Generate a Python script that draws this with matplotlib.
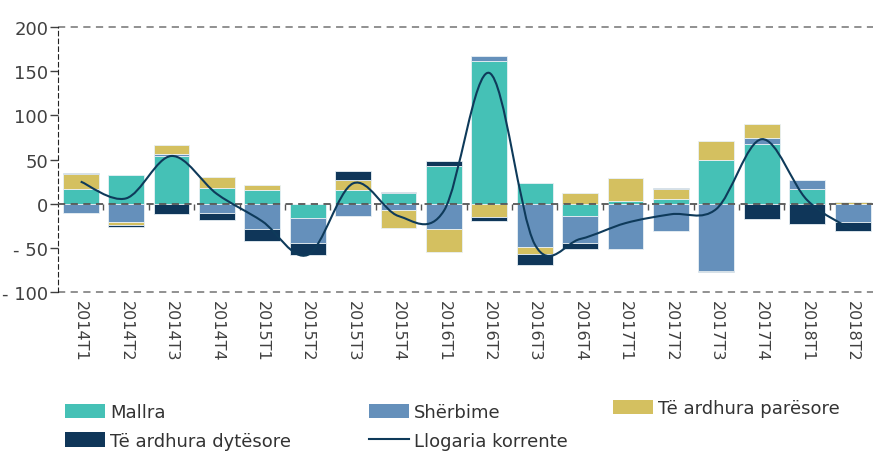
import numpy as np
import matplotlib
matplotlib.use("Agg")
import matplotlib.pyplot as plt
from matplotlib.path import Path
from matplotlib.patches import PathPatch, Patch
from matplotlib.lines import Line2D

quarters = ['2014T1', '2014T2', '2014T3', '2014T4', '2015T1', '2015T2', '2015T3', '2015T4',
            '2016T1', '2016T2', '2016T3', '2016T4', '2017T1', '2017T2', '2017T3', '2017T4',
            '2018T1', '2018T2']
mallra = [17, 32, 54, 18, 16, -16, 16, 12, 43, 162, 23, -13.5, 3.5, 5.5, 49, 67.5, 16.5, 0]
sherbime = [-10, -21, 2, -11, -29, -29, -14, -7, -29, 5, -49, -31, -51, -30.5, -76, 6.5, 10, -21]
paresore = [17, -3, 10, 12, 5.5, 0, 10.5, -21, -26, -15, -8, 12, 25.5, 11.5, 22, 16, 0, 1.5]
dytesore = [1, -2, -12, -8, -13, -13, 10.5, 1.5, 5, -5, -12, -7, 0, 1, -1, -17, -22.5, -9.5]
korrente = [25, 6, 54, 11, -20, -58, 23, -14, -8, 148, -46, -40, -22, -12, -6, 73, 4, -30]

yticks = [-100, -50, 0, 50, 100, 150, 200]
ylabels = ['- 100', '- 50', '0', '50', '100', '150', '200']

series = [('Mallra', mallra, '#45c1b6'),
          ('Shërbime', sherbime, '#6590bb'),
          ('Të ardhura parësore', paresore, '#d4c060'),
          ('Të ardhura dytësore', dytesore, '#0f3659')]
line_col = '#0e3a5a'
txt = '#404040'

plt.rcParams['font.family'] = ['DejaVu Sans']

fig = plt.figure(figsize=(8.73, 4.56), dpi=100)
ax = fig.add_axes([58 / 873, 1 - 293 / 456, 1 - 58 / 873, (293 - 28) / 456])

x = np.arange(len(quarters))
pos = np.zeros(len(x))
neg = np.zeros(len(x))
for name, vals, col in series:
    v = np.array(vals, dtype=float)
    bottom = np.where(v >= 0, pos, neg)
    ax.bar(x, v, 0.79, bottom=bottom, color=col, edgecolor='#e8f0f5', linewidth=0.6, zorder=2)
    pos = pos + np.where(v >= 0, v, 0)
    neg = neg + np.where(v < 0, v, 0)

# smoothed line (bezier through data points)
k = np.array(korrente, dtype=float)
pts = np.column_stack([x, k])
ext = np.vstack([pts[0], pts, pts[-1]])
verts = [tuple(pts[0])]
codes = [Path.MOVETO]
for i in range(len(pts) - 1):
    p0, p1, p2, p3 = ext[i], ext[i + 1], ext[i + 2], ext[i + 3]
    c1 = p1 + (p2 - p0) / 6
    c2 = p2 - (p3 - p1) / 6
    verts += [tuple(c1), tuple(c2), tuple(p2)]
    codes += [Path.CURVE4] * 3
ax.add_patch(PathPatch(Path(verts, codes), fill=False, edgecolor=line_col, lw=1.5, zorder=4))

ax.axhline(0, color='#555555', ls=(0, (4, 3)), lw=1.3, zorder=3)
ax.axhline(200, color='#888888', ls=(0, (4, 3)), lw=1.3, clip_on=False)
ax.axhline(-100, color='#888888', ls=(0, (4, 3)), lw=1.3, clip_on=False)
# category boundary ticks on the zero line
ax.plot(x[:-1] + 0.5, np.zeros(len(x) - 1), ls='', marker=3, markersize=4,
        markeredgewidth=1, color='#555555', zorder=3)

ax.set_xlim(-0.5, 17.45)
ax.set_ylim(-100, 200)
for s in ['top', 'right', 'bottom']:
    ax.spines[s].set_visible(False)
ax.spines['left'].set_linestyle((0, (4, 3)))
ax.spines['left'].set_color('#222222')

ax.set_yticks(yticks)
ax.set_yticklabels(ylabels)
ax.tick_params(axis='y', length=6, width=1, color=txt, pad=1, labelsize=13, labelcolor=txt)
ax.set_xticks(x)
ax.set_xticklabels(quarters, rotation=-90, fontsize=11.5, color=txt)
ax.tick_params(axis='x', length=0, pad=6)

handles = {name: Patch(facecolor=col) for name, vals, col in series}
handles['Llogaria korrente'] = Line2D([], [], color=line_col, lw=1.5)
cols = [(65, 404, ['Mallra', 'Të ardhura dytësore']),
        (369, 404, ['Shërbime', 'Llogaria korrente']),
        (613, 400, ['Të ardhura parësore'])]
for cx, cy, names in cols:
    leg = fig.legend([handles[n] for n in names], names, loc='upper left',
                     bbox_to_anchor=(cx / 873, 1 - cy / 456), frameon=False, fontsize=13,
                     borderpad=0, borderaxespad=0, handlelength=2.2, handleheight=0.85,
                     handletextpad=0.3, labelspacing=0.6, labelcolor='#333333')

fig.savefig('out.png', dpi=100)
